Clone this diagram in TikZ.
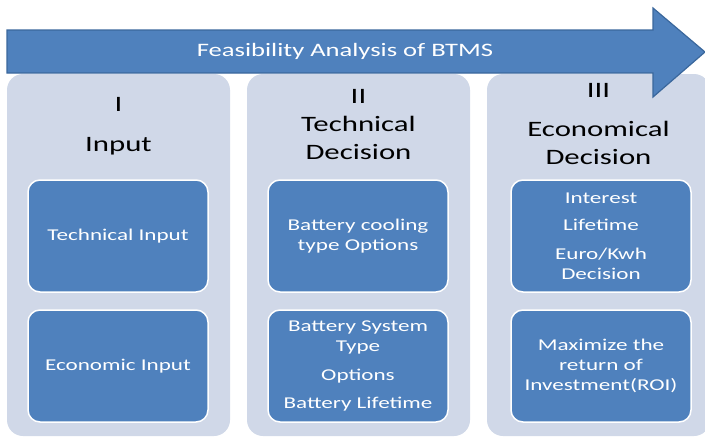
\documentclass[tikz,border=0pt]{standalone}
\usepackage{fontspec}
\setmainfont{Carlito}[FakeStretch=1.4]
\usepackage{tikz}
\usepackage{xcolor}

\definecolor{officeblue}{HTML}{4F81BD}
\definecolor{darkblue}{HTML}{3A679C}
\definecolor{panelgray}{HTML}{D0D8E8}

\tikzset{
  panel/.style={fill=panelgray,rounded corners=16pt,minimum width=223pt,minimum height=362pt,inner sep=0pt},
  stage/.style={font=\fontsize{22}{28}\selectfont,align=center,text=black},
  item/.style={draw=white,line width=1.5pt,fill=officeblue,rounded corners=12pt,minimum width=180pt,minimum height=112pt,text=white,align=center,font=\fontsize{16.5}{20}\selectfont},
  banner/.style={fill=officeblue,draw=darkblue,line width=1.2pt,line join=miter}
}

\begin{document}
\begin{tikzpicture}[x=1pt,y=-1pt]
\clip (0,0) rectangle (705,437);

\foreach \x/\n in {118.5/colI,358.5/colII,598.5/colIII}
   \node[panel] (\n) at (\x,255) {};

\draw[banner] (7,30) -- (653,30) -- (653,8) -- (705,52) -- (653,97) -- (653,73) -- (7,73) -- cycle;
\node[text=white,font=\fontsize{19}{22}\selectfont] (feas) at (345,51) {Feasibility Analysis of BTMS};

\node[stage] (hI) at (118.5,126) {I\\[12pt]Input};
\node[stage] (hII) at (358.5,125) {II\\Technical\\Decision};
\node[stage] (hIII) at (598.5,124) {III\\[11pt]Economical\\Decision};

\node[item] (techin) at (118,236) {\strut Technical Input};
\node[item] (econin) at (118,366) {\strut Economic Input};
\node[item] (cooling) at (358,236) {Battery cooling\\type Options};
\node[item] (systype) at (358,366) {Battery System\\Type\\[9pt]Options\\[8pt]Battery Lifetime};
\node[item] (costs) at (601,236) {Interest\\[7pt]Lifetime\\[9pt]Euro/Kwh\\Decision};
\node[item] (roi) at (601,366) {Maximize the\\return of\\Investment(ROI)};

\end{tikzpicture}
\end{document}
